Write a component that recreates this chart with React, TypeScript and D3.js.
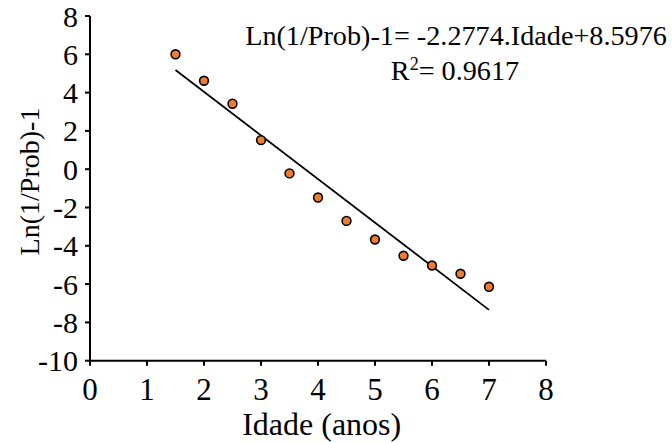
import React from "react";
import * as d3 from "d3";

const ages = [1.5, 2, 2.5, 3, 3.5, 4, 4.5, 5, 5.5, 6, 6.5, 7];
const lnValues = [6.0, 4.62, 3.42, 1.52, -0.22, -1.48, -2.7, -3.67, -4.52, -5.03, -5.46, -6.14];
const fitSlope = -2.2774;
const fitIntercept = 8.5976;
const fitRange = [1.5, 7];
const xTicks = [0, 1, 2, 3, 4, 5, 6, 7, 8];
const yTicks = [-10, -8, -6, -4, -2, 0, 2, 4, 6, 8];
const equationText = "Ln(1/Prob)-1= -2.2774.Idade+8.5976";
const r2Text = "= 0.9617";
const xLabel = "Idade (anos)";
const yLabel = "Ln(1/Prob)-1";

const W = 672;
const H = 443;
const FONT = "'Liberation Serif', 'Times New Roman', serif";

export default function App() {
  const x = d3.scaleLinear().domain([0, 8]).range([90, 546]);
  const y = d3.scaleLinear().domain([-10, 8]).range([360.7, 16]);
  const line = d3
    .line<number>()
    .x((d) => x(d))
    .y((d) => y(fitSlope * d + fitIntercept));
  const ts = { fontFamily: FONT };

  return (
    <svg
      width={W}
      height={H}
      style={{ position: "absolute", left: 0, top: 0, background: "#fff", fontFamily: FONT }}
    >
      <line x1={x(0)} x2={x(0)} y1={y(8)} y2={y(-10)} stroke="#000" strokeWidth={2} />
      <line x1={x(0)} x2={x(8)} y1={y(-10)} y2={y(-10)} stroke="#000" strokeWidth={2} />
      {yTicks.map((t) => (
        <g key={"y" + t}>
          <line x1={x(0) - 5} x2={x(0)} y1={y(t)} y2={y(t)} stroke="#000" strokeWidth={2} />
          <text x={78} y={y(t)} dy="0.35em" textAnchor="end" fontSize={30} fill="#000" style={ts}>
            {t}
          </text>
        </g>
      ))}
      {xTicks.map((t) => (
        <g key={"x" + t}>
          <line x1={x(t)} x2={x(t)} y1={y(-10)} y2={y(-10) + 5} stroke="#000" strokeWidth={2} />
          <text x={x(t)} y={399.5} textAnchor="middle" fontSize={31} fill="#000" style={ts}>
            {t}
          </text>
        </g>
      ))}
      <path d={line(fitRange) || ""} fill="none" stroke="#000" strokeWidth={1.8} />
      {ages.map((a, i) => (
        <circle
          key={i}
          cx={x(a)}
          cy={y(lnValues[i])}
          r={4.4}
          fill="#ED7D31"
          stroke="#000"
          strokeWidth={1.6}
        />
      ))}
      <text x={456} y={45} textAnchor="middle" fontSize={28.2} fill="#000" style={ts}>
        {equationText}
      </text>
      <text x={455} y={80} textAnchor="middle" fontSize={28.2} fill="#000" style={ts}>
        R<tspan fontSize={18} dy={-10}>2</tspan>
        <tspan dy={10}>{r2Text}</tspan>
      </text>
      <text x={321.7} y={435} textAnchor="middle" fontSize={32} fill="#000" style={ts}>
        {xLabel}
      </text>
      <text
        transform={`translate(39,181.5) rotate(-90)`}
        textAnchor="middle"
        fontSize={28}
        fill="#000"
        style={ts}
      >
        {yLabel}
      </text>
    </svg>
  );
}
